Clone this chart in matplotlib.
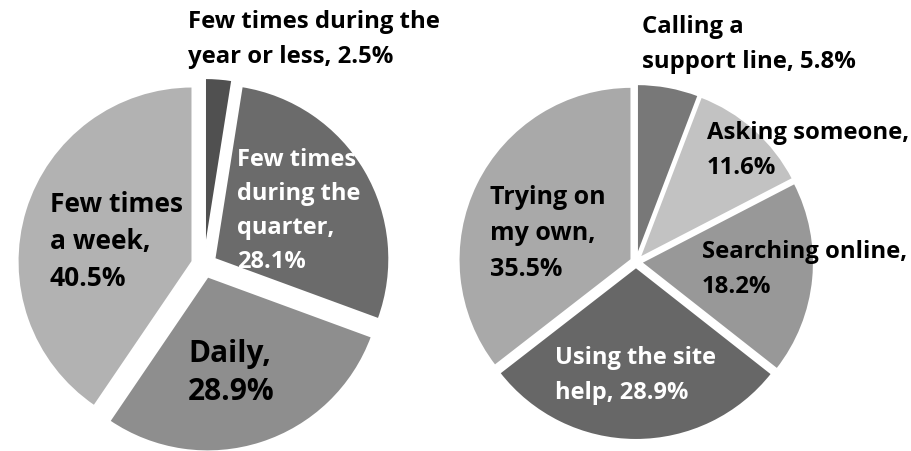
import matplotlib.pyplot as plt

W, H = 911, 451

# how often people use the site
freq_names = ["Few times during the year or less", "Few times during the quarter",
              "Daily", "Few times a week"]
freq_values = [2.5, 28.1, 28.9, 40.5]
freq_wrapped = ["Few times during the\nyear or less, {}%", "Few times\nduring the\nquarter,\n{}%",
                "Daily,\n{}%", "Few times\na week,\n{}%"]
freq_colors = ["#505050", "#6b6b6b", "#8e8e8e", "#b2b2b2"]

# what people do when they get stuck
help_names = ["Calling a support line", "Asking someone", "Searching online",
              "Using the site help", "Trying on my own"]
help_values = [5.8, 11.6, 18.2, 28.9, 35.5]
help_wrapped = ["Calling a\nsupport line, {}%", "Asking someone,\n{}%",
                "Searching online,\n{}%", "Using the site\nhelp, {}%",
                "Trying on\nmy own,\n{}%"]
help_colors = ["#787878", "#c2c2c2", "#989898", "#676767", "#a9a9a9"]

plt.rcParams["font.family"] = ["Open Sans", "DejaVu Sans"]

fig = plt.figure(figsize=(W / 100, H / 100), dpi=100)
ax = fig.add_axes([0, 0, 1, 1])


def draw_pie(values, colors, cx, cy, radius, gap):
    ax.pie(values, colors=colors, startangle=90, counterclock=False,
           center=(cx, H - cy), radius=radius, explode=[gap] * len(values),
           wedgeprops=dict(edgecolor="white", linewidth=1.5))


def put_label(template, value, x, y, size, step, color="black"):
    text = template.format(value)
    for i, line in enumerate(text.split("\n")):
        ax.text(x, H - (y + i * step), line, ha="left", va="center",
                fontsize=size, fontweight="bold", color=color)


draw_pie(freq_values, freq_colors, 204, 265, 175, 12)
draw_pie(help_values, help_colors, 636, 262, 173, 5)

# (x, first line y, font size, line step, colour) per label
freq_spots = [(188, 22, 17.2, 35, "black"), (237, 160, 17, 34, "white"),
              (188, 354, 21.5, 38, "black"), (50, 205, 19, 37, "black")]
help_spots = [(642, 27, 17.2, 35, "black"), (707, 133, 17.2, 35, "black"),
              (702, 252, 17.2, 35, "black"), (555, 358, 17, 35, "white"),
              (490, 197, 18, 36.5, "black")]

for tpl, val, (x, y, s, st, c) in zip(freq_wrapped, freq_values, freq_spots):
    put_label(tpl, val, x, y, s, st, c)
for tpl, val, (x, y, s, st, c) in zip(help_wrapped, help_values, help_spots):
    put_label(tpl, val, x, y, s, st, c)

ax.set_xlim(0, W)
ax.set_ylim(0, H)
ax.set_aspect("auto")
ax.axis("off")

fig.savefig("out.png", dpi=100, facecolor="white")
